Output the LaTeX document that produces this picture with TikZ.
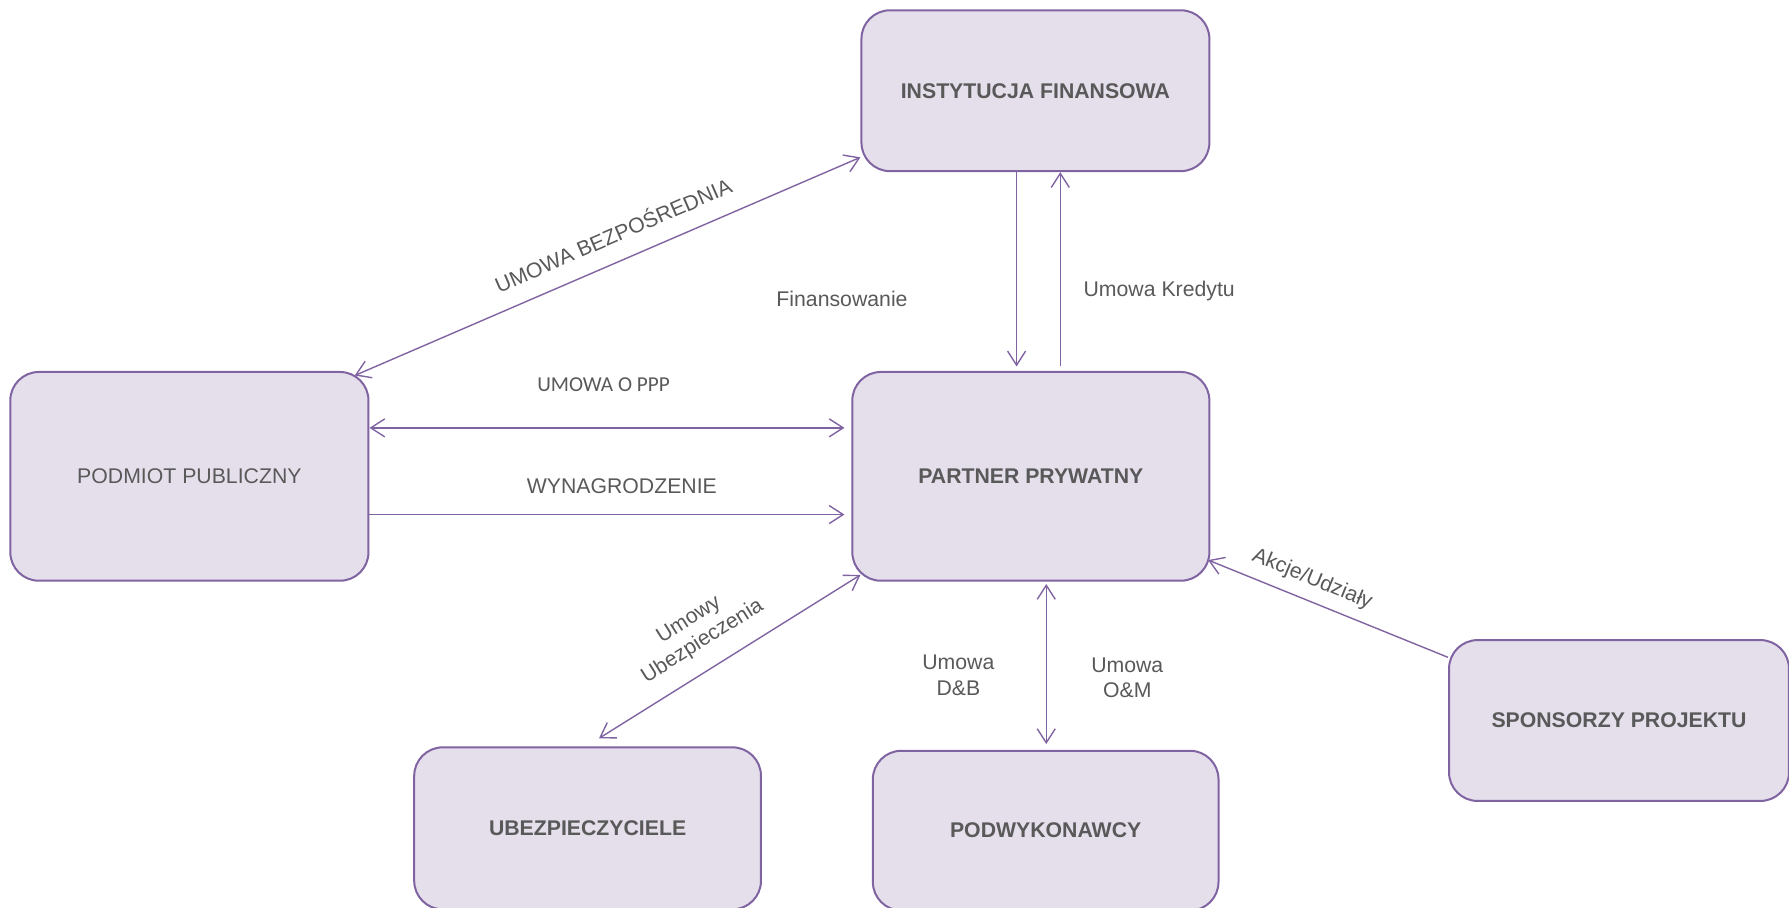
\documentclass[tikz,border=0pt]{standalone}
\usepackage{fontspec}
\setmainfont{Liberation Sans}
\newfontfamily\calibri{Carlito}
\usetikzlibrary{arrows.meta}
\usetikzlibrary{calc, positioning}
\definecolor{boxfill}{HTML}{E5DFEC}
\definecolor{boxline}{HTML}{8064A2}
\definecolor{txtgray}{HTML}{595959}
\newcommand\lblsize{\fontsize{10.6}{12.7}\selectfont}

\begin{document}
\begin{tikzpicture}[x=0.02cm,y=-0.02cm,
  >={Straight Barb[length=7pt,width=9pt]},
  party/.style={rectangle,rounded corners=0.5cm,draw=boxline,fill=boxfill,line width=1pt,
    text=txtgray,font=\lblsize\bfseries},
  flow/.style={draw=boxline,line width=0.7pt},
  lbl/.style={text=txtgray,font=\lblsize,inner sep=0pt,align=center}]
\useasboundingbox (0,0) rectangle (1568,795);

\node[party,minimum width=6.1cm,minimum height=2.82cm] (fin) at (907.5,79.5) {INSTYTUCJA FINANSOWA};
\node[party,font=\lblsize,minimum width=6.28cm,minimum height=3.66cm] (pub) at (166,417.5) {PODMIOT PUBLICZNY};
\node[party,minimum width=6.26cm,minimum height=3.66cm] (prv) at (903.5,417.5) {PARTNER PRYWATNY};
\node[party,minimum width=6.08cm,minimum height=2.84cm] (ins) at (515,726) {UBEZPIECZYCIELE};
\node[party,minimum width=6.06cm,minimum height=2.8cm] (sub) at (916.5,728) {PODWYKONAWCY};
\node[party,minimum width=5.96cm,minimum height=2.82cm] (spo) at (1419,631.5) {SPONSORZY PROJEKTU};

\draw[flow,<->] ($(pub.north east)+(-13,4)$) -- ($(fin.south west)+(0,-13)$);
\draw[flow,->] ($(fin.south)+(-16.5,0)$) -- ($(prv.north)+(-12.5,-4)$);
\draw[flow,->] ($(prv.north)+(25.8,-4)$) -- ($(fin.south)+(21.8,0)$);
\draw[flow,<->] ($(pub.east)+(0,-42.5)$) -- ($(prv.west)+(-6,-42.5)$);
\draw[flow,->] ($(pub.east)+(0,33.5)$) -- ($(prv.west)+(-6,33.5)$);
\draw[flow,<->] ($(prv.south west)+(8,-6)$) -- ($(ins.north)+(10,-7)$);
\draw[flow,<->] ($(prv.south)+(13.5,2)$) -- ($(sub.north)+(0.5,-5)$);
\draw[flow,->] ($(spo.north west)+(0,16)$) -- ($(prv.south east)+(-2,-19)$);

\node[lbl,rotate=23.4] (lbezp) at (537,205) {UMOWA BEZPOŚREDNIA};
\node[lbl] (lfin) at (738,262) {Finansowanie};
\node[lbl] (lkred) at (1016,255) {Umowa Kredytu};
\node[lbl,font=\lblsize\calibri] (lppp) at (529,337) {UMOWA O PPP};
\node[lbl] (lwyn) at (545,426) {WYNAGRODZENIE};
\node[lbl,rotate=32.2] (lubez) at (610,553) {Umowy\\Ubezpieczenia};
\node[lbl] (ldb) at (840,592) {Umowa\\D\&B};
\node[lbl] (lom) at (988,594) {Umowa\\O\&M};
\node[lbl,rotate=-22.3] (lakc) at (1150,508) {Akcje/Udziały};

\end{tikzpicture}
\end{document}
